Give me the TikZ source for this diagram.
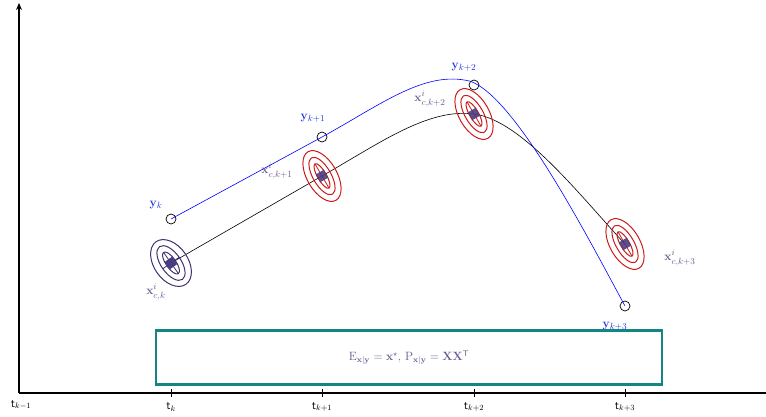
\documentclass[tikz,border=0pt]{standalone}
\usepackage{amsmath,amssymb}
\usetikzlibrary{arrows.meta}
\definecolor{ellpurple}{HTML}{3F2F6E}
\definecolor{ellred}{HTML}{CC1A1A}
\definecolor{diafill}{HTML}{4B3B80}
\definecolor{lblpurple}{HTML}{6A5A90}
\definecolor{boxteal}{HTML}{138585}
\definecolor{ylbl}{HTML}{2233DD}
\tikzset{
  axisline/.style={line width=1.8pt},
  tickmark/.style={line width=0.6pt},
  obs/.style={circle, draw=black, line width=0.7pt, minimum size=10pt, inner sep=0pt},
  ylab/.style={text=ylbl, font=\fontsize{12.5}{14}\selectfont},
  xlab/.style={text=lblpurple, font=\fontsize{13}{15}\selectfont},
  tlab/.style={font=\fontsize{12}{14}\selectfont},
  gaussP/.pic={
    \draw[ellpurple, line width=1pt] (0,0) ellipse (17 and 26);
    \draw[ellpurple, line width=1pt] (0,0) ellipse (10 and 20);
    \draw[ellpurple, line width=1pt] (0,0) ellipse (5 and 13);
    \draw[ellpurple, line width=0.8pt] (0,-13) -- (0,13) (-10,0) -- (10,0);
    \fill[diafill] (-4.5,-4.5) rectangle (4.5,4.5);
  },
  gaussR/.pic={
    \draw[ellred, line width=1pt] (0,0) ellipse (15 and 28);
    \draw[ellred, line width=1pt] (0,0) ellipse (9 and 21);
    \draw[ellred, line width=1pt] (0,0) ellipse (4.5 and 14);
    \draw[ellred, line width=0.8pt] (0,-14) -- (0,14);
    \fill[diafill, opacity=0.9] (-4.5,-4.5) rectangle (4.5,4.5);
  },
}
\begin{document}
\begin{tikzpicture}[x=1pt,y=-1pt]
\useasboundingbox (0,0) rectangle (766,416);
% axes
\coordinate (O) at (19,393);
\coordinate (ytop) at (19,3);
\coordinate (xend) at (766,393);
\draw[axisline, -{Stealth[length=7pt,width=6pt]}] (O) -- (ytop);
\draw[axisline] (O) -- (xend);
% ticks and labels
\foreach \n/\px/\lab in {tk/171/{k}, tka/322/{k+1}, tkb/474/{k+2}, tkc/625/{k+3}}{
  \coordinate (\n u) at (\px,389);
  \coordinate (\n d) at (\px,397);
  \draw[tickmark] (\n u) -- (\n d);
  \node[tlab] (\n l) at (\px,407) {$\mathsf{t}_{\lab}$};
}
\node[tlab] (tkm) at (21,405) {$\mathsf{t}_{k-1}$};
% centres
\coordinate (xk) at (171,263);
\coordinate (xka) at (322,176);
\coordinate (xkb) at (474,114);
\coordinate (xkc) at (625,244);
% estimate curve
\draw[black, line width=0.6pt] (xk) -- (xka) .. controls (380,143) and (428,108) .. (xkb) .. controls (522,120) and (582,198) .. (xkc);
% measurement curve
\node[obs] (yk) at (171,219) {};
\node[obs] (yka) at (322,137) {};
\node[obs] (ykb) at (474,85) {};
\node[obs] (ykc) at (625,306) {};
\draw[blue, line width=0.6pt] (yk.center) -- (yka.center) .. controls (382,104) and (425,70) .. (ykb.north west) .. controls (515,97) and (585,232) .. (ykc.center);
% gaussians
\pic[rotate=35] at (xk) {gaussP};
\pic[rotate=30] at (xka) {gaussR};
\pic[rotate=30] at (xkb) {gaussR};
\pic[rotate=30] at (xkc) {gaussR};
% labels
\node[ylab] (lyk) at (156,205) {$\mathbf{y}_{k}$};
\node[ylab] (lyka) at (313,118) {$\mathbf{y}_{k+1}$};
\node[ylab] (lykb) at (464,67) {$\mathbf{y}_{k+2}$};
\node[ylab] (lykc) at (615,326) {$\mathbf{y}_{k+3}$};
\node[xlab] (lxk) at (156,292) {$\mathbf{x}^{i}_{c,k}$};
\node[xlab] (lxka) at (277,171) {$\mathbf{x}^{i}_{c,k+1}$};
\node[xlab] (lxkb) at (430,99) {$\mathbf{x}^{i}_{c,k+2}$};
\node[xlab] (lxkc) at (680,258) {$\mathbf{x}^{i}_{c,k+3}$};
% result box
\node[draw=boxteal, line width=2.2pt, fill=white, minimum width=506pt, minimum height=54pt, inner sep=0pt, text=lblpurple, font=\fontsize{11.5}{13}\selectfont] (res) at (409,357.5)
  {$\mathrm{E}_{\mathbf{x}|\mathbf{y}} = \mathbf{x}^{\star},\, \mathrm{P}_{\mathbf{x}|\mathbf{y}} = \mathbf{X}\mathbf{X}^{\mathsf{T}}$};
\end{tikzpicture}
\end{document}
